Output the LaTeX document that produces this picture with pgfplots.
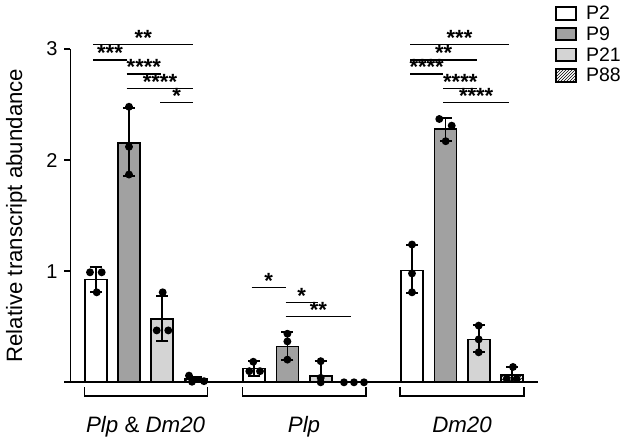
\documentclass[border=0pt]{standalone}
\usepackage{fontspec}
\setmainfont{Liberation Sans}
\setsansfont{Liberation Sans}
\usepackage{pgfplots}
\pgfplotsset{compat=1.18}
\usetikzlibrary{patterns}
\definecolor{pnine}{gray}{0.63}
\definecolor{ptwentyone}{gray}{0.83}
\newcommand{\stars}[3]{\node[anchor=base, yshift=-1pt, inner sep=0pt, font=\fontsize{22}{22}\selectfont\bfseries] at (axis cs:#1,#2) {#3};}
\newcommand{\sig}[4]{\draw[line width=1.3pt] (axis cs:#1,#3) -- (axis cs:#2,#3);\stars{#1/2+#2/2}{#3}{#4}}
\newcommand{\brk}[2]{\draw[line width=1.5pt] (axis cs:#1,-0.045) -- (axis cs:#1,-0.123) -- (axis cs:#2,-0.123) -- (axis cs:#2,-0.045);}

\pgfplotstableread{
x y ep em
95.7 0.925 0.11 0.115
254 0.125 0.065 0.065
412 1.006 0.23 0.2
}\ptwo
\pgfplotstableread{
x y ep em
129 2.155 0.315 0.295
287.4 0.323 0.127 0.119
445.5 2.28 0.1 0.11
}\pnine
\pgfplotstableread{
x y ep em
162.3 0.57 0.21 0.2
320.7 0.06 0.13 0.06
478.8 0.386 0.13 0.116
}\ptwentyone
\pgfplotstableread{
x y ep em
195.6 0.03 0.02 0.02
354 0.0 0.0 0.0
512.3 0.063 0.075 0.06
}\peightyeight

\begin{document}
\begin{tikzpicture}[x=1pt,y=1pt]
\useasboundingbox (0,0) rectangle (624,438);
\begin{axis}[
  at={(70.5pt,55.7pt)}, anchor=south west,
  scale only axis, width=467.5pt, height=333.3pt,
  xmin=70.5, xmax=538, ymin=0, ymax=3,
  axis x line=bottom, axis y line=left,
  axis line style={-, line width=1.8pt},
  clip=false,
  ytick={0,1,2,3}, yticklabels={,1,2,3},
  ytick style={line width=1.8pt, black},
  tick align=outside, major tick length=6pt,
  yticklabel style={anchor=east, inner sep=0pt, xshift=-6.7pt, font=\fontsize{20}{20}\selectfont},
  /pgf/number format/assume math mode=true,
  xtick={145.6,304,462},
  xticklabels={{\textit{Plp} \& \textit{Dm20}},{\textit{Plp}},{\textit{Dm20}}},
  xtick style={draw=none},
  xticklabel style={anchor=base, inner sep=0pt, yshift=-44.4pt, font=\fontsize{22.3}{22.3}\selectfont},
  ylabel={Relative transcript abundance},
  ylabel style={at={(axis description cs:-0.1036,0.5)}, anchor=base, font=\fontsize{22.2}{22.2}\selectfont},
  legend style={at={(axis description cs:1.0364,1.135)}, anchor=north west, draw=none, fill=none, inner sep=0pt, row sep=1.5pt, font=\fontsize{19.5}{19.5}\selectfont, /tikz/every odd column/.append style={column sep=7pt}},
  legend cell align=left,
  legend image code/.code={\draw[#1, line width=1.8pt] (0pt,-6pt) rectangle (20pt,6.5pt);},
  every axis plot/.append style={line width=1.8pt},
  error bars/y dir=both, error bars/y explicit,
  error bars/error mark options={rotate=90, mark size=6pt, line width=1.8pt, black},
  error bars/error bar style={line width=1.8pt, black},
]
\addplot[ybar, bar shift=0pt, bar width=22, fill=white, draw=black] table[x=x, y=y, y error plus=ep, y error minus=em] {\ptwo};
\addplot[ybar, bar shift=0pt, bar width=22, fill=pnine, draw=black] table[x=x, y=y, y error plus=ep, y error minus=em] {\pnine};
\addplot[ybar, bar shift=0pt, bar width=22, fill=ptwentyone, draw=black] table[x=x, y=y, y error plus=ep, y error minus=em] {\ptwentyone};
\addplot[ybar, bar shift=0pt, bar width=22, fill=white, postaction={pattern=north east lines}, draw=black] table[x=x, y=y, y error plus=ep, y error minus=em] {\peightyeight};
\legend{P2,P9,P21,P88}

\addplot[only marks, mark=*, mark size=3pt, black, forget plot, error bars/y dir=none] coordinates {
 (90,0.99) (101.7,0.99) (96.7,0.81)
 (129,2.48) (129,2.12) (129,1.87)
 (162.7,0.81) (156.7,0.467) (168.3,0.467)
 (189,0.06) (192,0.005) (204,0.01)
 (253.3,0.185) (249.3,0.1) (260,0.1)
 (287.4,0.437) (287.4,0.368) (287.4,0.204)
 (320.7,0.19) (320.7,0.04) (320.7,0.0)
 (344,0) (354,0) (364,0)
 (412,1.24) (412,0.98) (412,0.81)
 (439.3,2.37) (451.7,2.31) (445.7,2.17)
 (478.7,0.51) (478.7,0.386) (478.7,0.27)
 (513,0.138) (506.7,0.03) (516.7,0.03)
};

\sig{93.3}{193.3}{3.042}{**}
\sig{93.3}{126.7}{2.901}{***}
\sig{126.7}{161}{2.775}{****}
\sig{126.7}{193.3}{2.646}{****}
\sig{160}{193.3}{2.517}{*}

\sig{251.7}{285.7}{0.851}{*}
\sig{285.7}{317.7}{0.72}{*}
\sig{285.7}{351}{0.59}{**}

\sig{410}{509}{3.042}{***}
\sig{410}{477.3}{2.901}{**}
\sig{410}{443.3}{2.775}{****}
\sig{443.3}{477.3}{2.646}{****}
\sig{443.3}{509}{2.517}{****}

\brk{84.3}{207.7}
\brk{242.7}{366}
\brk{400}{524}
\end{axis}
\end{tikzpicture}
\end{document}
